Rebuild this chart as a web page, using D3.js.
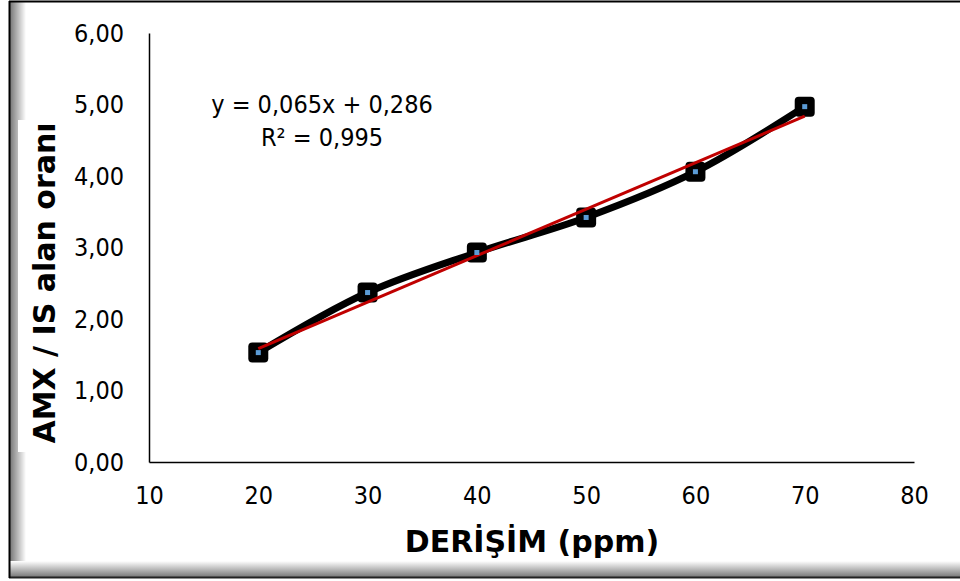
<!DOCTYPE html>
<html><head><meta charset="utf-8">
<script src="https://cdn.jsdelivr.net/npm/d3@7"></script>
<style>html,body{margin:0;padding:0;background:#fff;}svg{display:block;}</style>
</head><body>
<script>
const concentrations = [20, 30, 40, 50, 60, 70];
const ratios = [1.53, 2.37, 2.93, 3.42, 4.06, 4.97];
const xTicks = [10, 20, 30, 40, 50, 60, 70, 80];
const yTicks = [0, 1, 2, 3, 4, 5, 6];
const trendSlope = 0.065, trendIntercept = 0.286;
const eqLines = ["y = 0,065x + 0,286", "R² = 0,995"];
const xTitle = "DERİŞİM (ppm)";
const yTitle = "AMX / IS alan oranı";

const W = 960, H = 581;
const FONT = "'DejaVu Sans Condensed','DejaVu Sans',sans-serif";
const TFONT = "'DejaVu Sans',sans-serif";
const svg = d3.select("body").append("svg").attr("width", W).attr("height", H);
const defs = svg.append("defs");
const gl = defs.append("linearGradient").attr("id","gl").attr("x1","0").attr("x2","1").attr("y1","0").attr("y2","0");
gl.append("stop").attr("offset","0").attr("stop-color","#777");
gl.append("stop").attr("offset","1").attr("stop-color","#fff");
const gb = defs.append("linearGradient").attr("id","gb").attr("x1","0").attr("x2","0").attr("y1","0").attr("y2","1");
gb.append("stop").attr("offset","0").attr("stop-color","#fff");
gb.append("stop").attr("offset","1").attr("stop-color","#777");

// frame
svg.append("rect").attr("x",10).attr("y",2).attr("width",16).attr("height",575).attr("fill","url(#gl)");
svg.append("rect").attr("x",10).attr("y",561).attr("width",950).attr("height",16).attr("fill","url(#gb)");
svg.append("line").attr("x1",9).attr("x2",960).attr("y1",1.5).attr("y2",1.5).attr("stroke","#000").attr("stroke-width",2);
svg.append("line").attr("x1",9).attr("x2",960).attr("y1",577.5).attr("y2",577.5).attr("stroke","#222").attr("stroke-width",2);
svg.append("line").attr("x1",9.5).attr("x2",9.5).attr("y1",1).attr("y2",578).attr("stroke","#000").attr("stroke-width",2);
// white box behind y title
svg.append("rect").attr("x",18).attr("y",120).attr("width",50).attr("height",332).attr("fill","#fff");

const x = d3.scaleLinear().domain([10, 80]).range([149, 914]);
const y = d3.scaleLinear().domain([0, 6]).range([462, 33]);
const fmt = d => d.toFixed(2).replace(".", ",");

const yAxis = svg.append("g").attr("transform","translate(149,0)")
  .call(d3.axisLeft(y).tickValues(yTicks).tickSize(0).tickPadding(25).tickFormat(fmt));
yAxis.select(".domain").attr("stroke","#000").attr("stroke-width",1.5);
yAxis.selectAll("text").attr("font-family",FONT).attr("font-size",25).attr("fill","#000");

const xAxis = svg.append("g").attr("transform","translate(0,462)")
  .call(d3.axisBottom(x).tickValues(xTicks).tickSize(0).tickPadding(24).tickFormat(d3.format("d")));
xAxis.select(".domain").attr("stroke","#000").attr("stroke-width",1.5);
xAxis.selectAll("text").attr("font-family",FONT).attr("font-size",25).attr("fill","#000");

const pts = concentrations.map((c,i)=>[c, ratios[i]]);
const line = d3.line().x(d=>x(d[0])).y(d=>y(d[1])).curve(d3.curveCatmullRom.alpha(0.5));
svg.append("path").datum(pts).attr("d",line).attr("fill","none").attr("stroke","#000").attr("stroke-width",7).attr("stroke-linejoin","round");

svg.selectAll("rect.mk").data(pts).enter().append("rect").attr("class","mk")
  .attr("x",d=>x(d[0])-10).attr("y",d=>y(d[1])-10).attr("width",20).attr("height",20)
  .attr("rx",4).attr("fill","#000");

// trendline
const tx = d3.extent(concentrations);
svg.append("line").attr("x1",x(tx[0])).attr("y1",y(trendSlope*tx[0]+trendIntercept))
  .attr("x2",x(tx[1])).attr("y2",y(trendSlope*tx[1]+trendIntercept))
  .attr("stroke","#c00000").attr("stroke-width",3);

svg.selectAll("rect.in").data(pts).enter().append("rect").attr("class","in")
  .attr("x",d=>x(d[0])-2.5).attr("y",d=>y(d[1])-2.5).attr("width",5).attr("height",5)
  .attr("fill","#5b9bd5");

// equation
svg.selectAll("text.eq").data(eqLines).enter().append("text").attr("class","eq")
  .attr("x",322).attr("y",(d,i)=>113+i*33).attr("text-anchor","middle")
  .attr("font-family",FONT).attr("font-size",25).attr("fill","#000").text(d=>d);

// titles
svg.append("text").attr("x",532).attr("y",552).attr("text-anchor","middle")
  .attr("font-family",TFONT).attr("font-weight","bold").attr("font-size",30).attr("fill","#000").text(xTitle);
svg.append("text").attr("transform","translate(55,283) rotate(-90)").attr("text-anchor","middle")
  .attr("font-family",TFONT).attr("font-weight","bold").attr("font-size",30).attr("fill","#000").text(yTitle);
</script>
</body></html>
